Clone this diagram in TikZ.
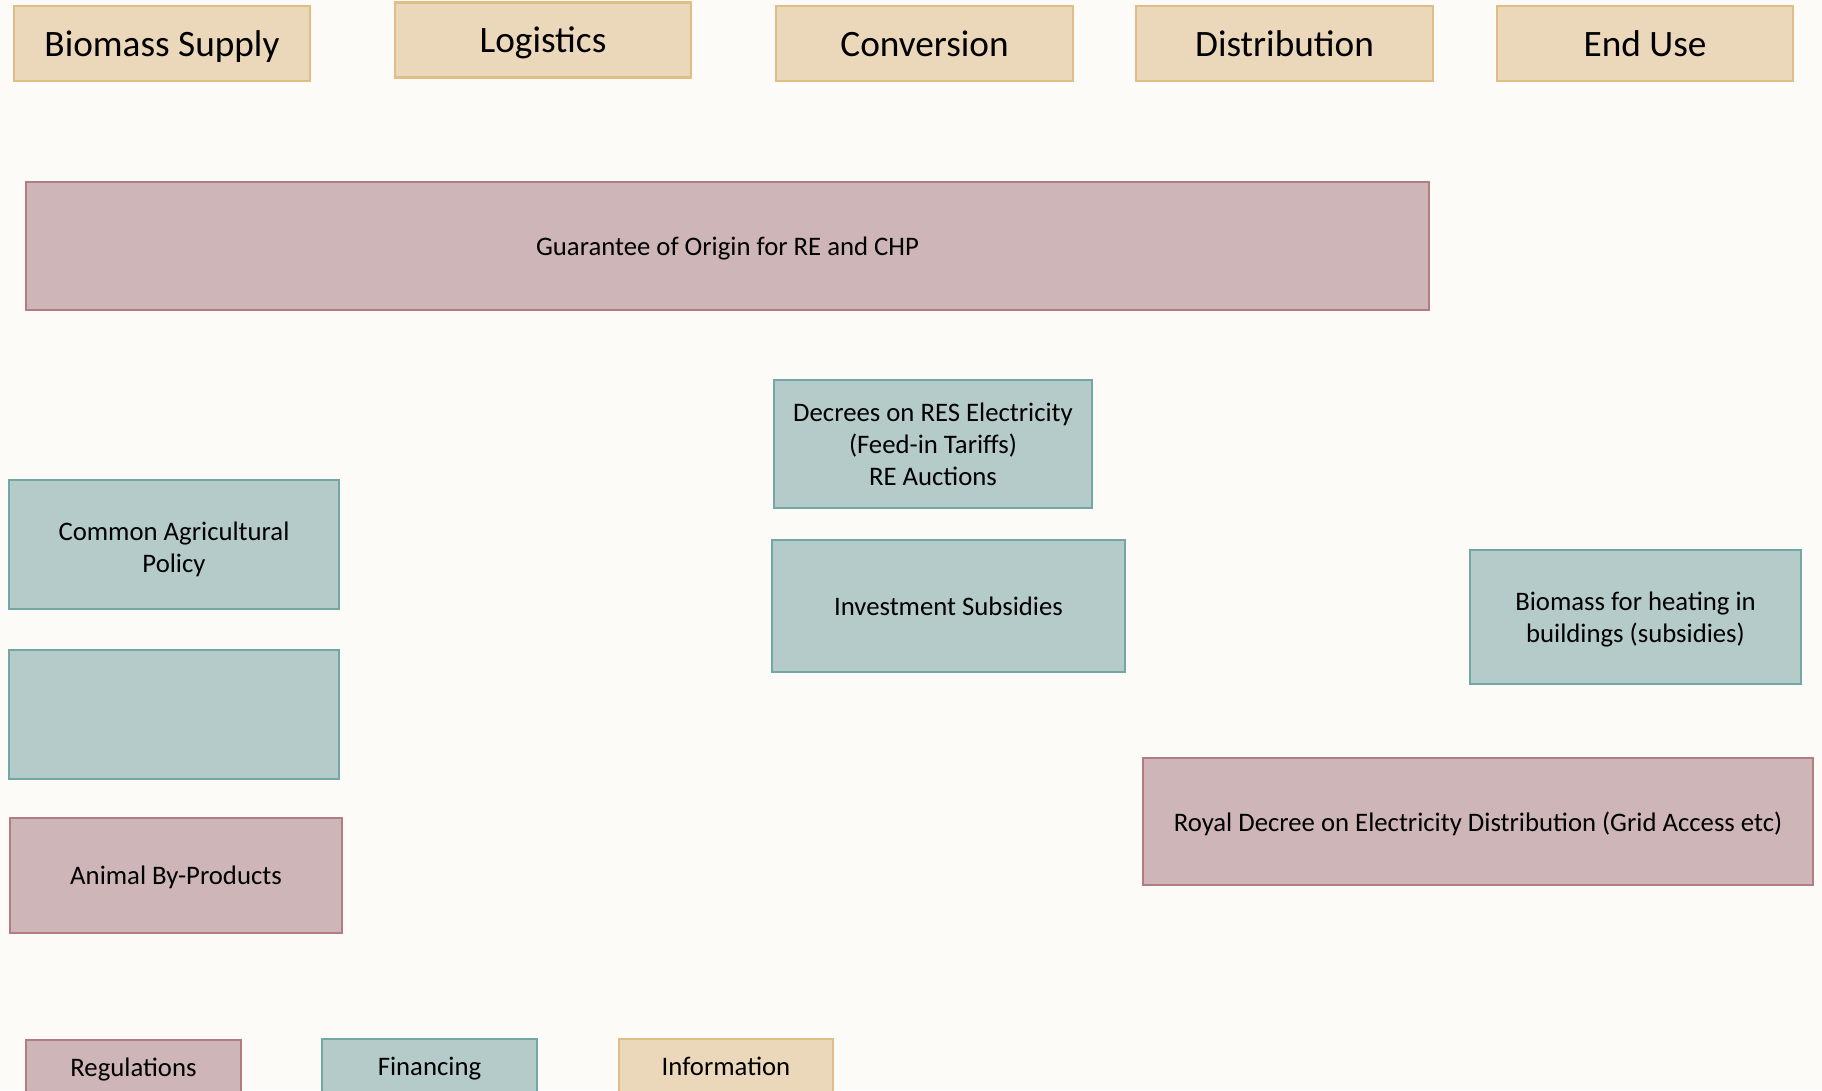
\documentclass[tikz,border=0pt]{standalone}
\usepackage{fontspec}
\setmainfont{Carlito}
\definecolor{bgcol}{HTML}{FCFBF7}
\definecolor{tanfill}{HTML}{EBD7B9}
\definecolor{tanline}{HTML}{DFBE86}
\definecolor{pinkfill}{HTML}{CEB5B8}
\definecolor{pinkline}{HTML}{B27C82}
\definecolor{tealfill}{HTML}{B5CBC9}
\definecolor{tealline}{HTML}{72A8A3}
\begin{document}
\begin{tikzpicture}[x=0.01cm, y=-0.01cm,
  box/.style={draw, line width=0.6pt, inner sep=0pt, align=center,
    font=\fontsize{7.6}{9.1}\selectfont},
  oneline/.style={text depth=0pt},
  stage/.style={box, oneline, fill=tanfill, draw=tanline, minimum width=2.96cm,
    minimum height=0.75cm, font=\fontsize{10.6}{12.7}\selectfont},
  regbox/.style={box, fill=pinkfill, draw=pinkline},
  finbox/.style={box, fill=tealfill, draw=tealline},
  infobox/.style={box, fill=tanfill, draw=tanline}]
  \fill[bgcol] (0,0) rectangle (1822,1090);
  \useasboundingbox (0,0) rectangle (1822,1090);
  \clip (0,0) rectangle (1822,1090);

  % value chain stages
  \node[stage] (supply) at (162,43.5) {Biomass Supply};
  \node[stage] (logistics) at (543,40) {Logistics};
  \node[stage] (conversion) at (924.5,43.5) {Conversion};
  \node[stage] (distribution) at (1284.5,43.5) {Distribution};
  \node[stage] (enduse) at (1645,43.5) {End Use};

  % policy instruments
  \node[regbox, oneline, minimum width=14.03cm, minimum height=1.28cm] (origin) at (727.5,246)
    {Guarantee of Origin for RE and CHP};
  \node[finbox, minimum width=3.18cm, minimum height=1.28cm] (decrees) at (933,444)
    {Decrees on RES Electricity\\(Feed-in Tariffs)\\RE Auctions};
  \node[finbox, minimum width=3.30cm, minimum height=1.29cm] (cap) at (174,544.5)
    {\rule{0pt}{2.15ex}Common Agricultural\\Policy};
  \node[finbox, oneline, minimum width=3.53cm, minimum height=1.32cm] (invest) at (948.5,606)
    {Investment Subsidies};
  \node[finbox, minimum width=3.31cm, minimum height=1.34cm] (heating) at (1635.5,617)
    {\rule{0pt}{1.9ex}Biomass for heating in\\buildings (subsidies)};
  \node[finbox, minimum width=3.30cm, minimum height=1.29cm] (blank) at (174,714.5) {};
  \node[regbox, oneline, minimum width=3.32cm, minimum height=1.15cm] (byproducts) at (176,875.5)
    {Animal By-Products};
  \node[regbox, oneline, minimum width=6.70cm, minimum height=1.27cm] (royal) at (1478,821.5)
    {Royal Decree on Electricity Distribution (Grid Access etc)};

  % legend
  \node[regbox, oneline, minimum width=2.15cm, minimum height=0.55cm] (regs) at (133.5,1067.5) {Regulations};
  \node[finbox, oneline, minimum width=2.15cm, minimum height=0.55cm] (fin) at (429.5,1066.5) {Financing};
  \node[infobox, oneline, minimum width=2.14cm, minimum height=0.55cm] (info) at (726,1066.5) {Information};
\end{tikzpicture}
\end{document}
